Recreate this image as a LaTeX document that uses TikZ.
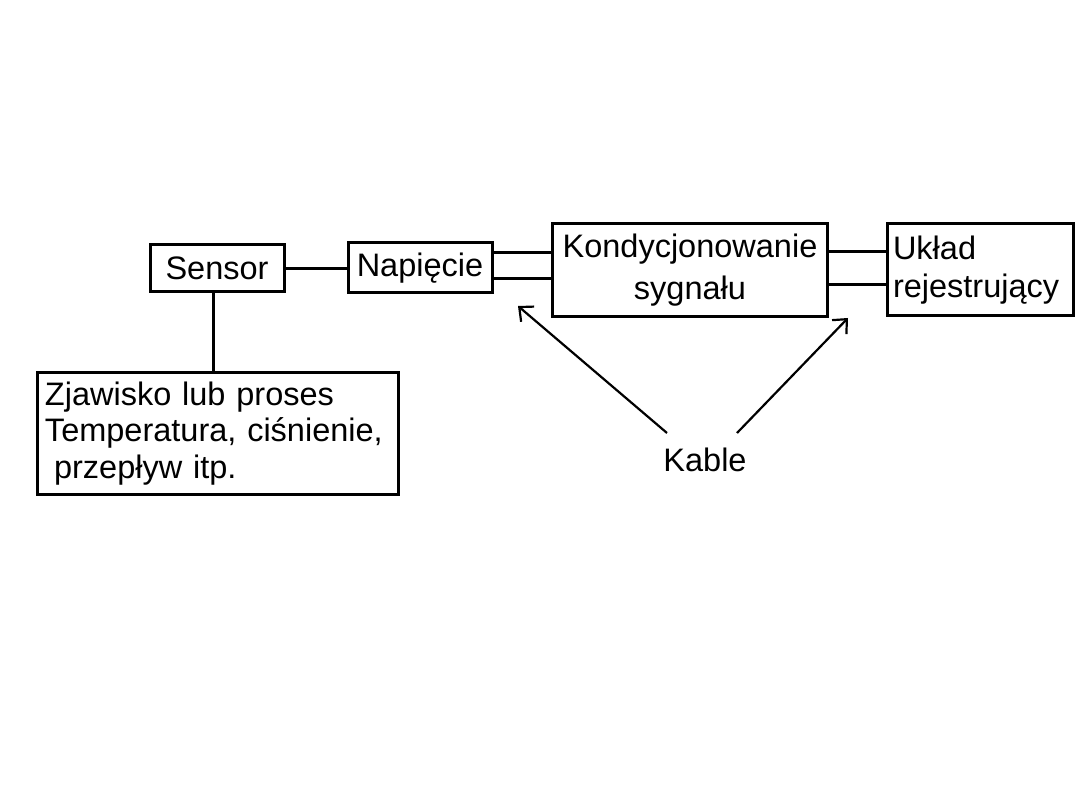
\documentclass[tikz,border=0pt]{standalone}
\usepackage{fontspec}
\setmainfont{Liberation Sans}
\usetikzlibrary{arrows.meta}
\begin{document}
\begin{tikzpicture}[x=1pt,y=-1pt,
  box/.style={draw=black,line width=3pt,rectangle,inner sep=0pt,
    font=\fontsize{32.5}{38}\selectfont},
  wire/.style={draw=black,line width=3pt},
  ptr/.style={draw=black,line width=2.2pt,-{Straight Barb[length=11pt,width=20pt,line width=2.2pt]}},
  lbl/.style={font=\fontsize{32.5}{38}\selectfont,inner sep=0pt}]
\useasboundingbox[fill=white] (0,0) rectangle (1080,810);

\node[box,minimum width=134pt,minimum height=47pt] (sensor) at (217,268.5) {Sensor};
\node[box,minimum width=144pt,minimum height=50pt] (nap) at (420,268) {Napięcie};
\node[box,minimum width=275pt,minimum height=93pt,align=center,
  font=\fontsize{32.5}{42}\selectfont] (kond) at (690,270.5) {Kondycjonowanie\\sygnału};
\node[box,minimum height=92pt,text width=174pt,inner xsep=6pt,align=left,
  font=\fontsize{32.5}{38}\selectfont] (uklad) at (980,270) {Układ\\rejestrujący};
\node[box,minimum height=122pt,text width=345pt,inner xsep=8pt,align=left,
  font=\fontsize{32.5}{36.5}\selectfont] (zjaw) at (217.5,433.5)
  {Zjawisko lub proses\\Temperatura, ciśnienie,\\\hspace*{0.28em}przepływ itp.};
\node[lbl] (kable) at (705,460) {Kable};

\draw[wire] (sensor.east) -- (nap.west |- sensor.east);
\draw[wire] ([xshift=-4pt]sensor.south) -- ([xshift=-4pt]sensor.south |- zjaw.north);
\draw[wire] (nap.east |- 0,253) -- (kond.west |- 0,253);
\draw[wire] (nap.east |- 0,279) -- (kond.west |- 0,279);
\draw[wire] (kond.east |- 0,252) -- (uklad.west |- 0,252);
\draw[wire] (kond.east |- 0,285) -- (uklad.west |- 0,285);

\coordinate (a1) at (667,433);
\coordinate (t1) at (518,306);
\coordinate (a2) at (737,433);
\coordinate (t2) at (848,318);
\draw[ptr] (a1) -- (t1);
\draw[ptr] (a2) -- (t2);
\end{tikzpicture}
\end{document}
